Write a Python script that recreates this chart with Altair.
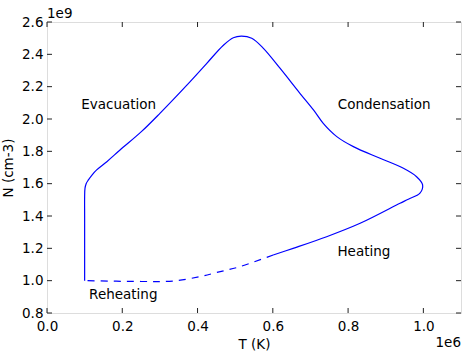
import altair as alt
import pandas as pd

# Values in units of 1e6 K (T) and 1e9 cm-3 (N)
solid_T = [0.1, 0.1, 0.1, 0.1, 0.101, 0.104, 0.110, 0.12, 0.132, 0.159, 0.194, 0.25, 0.300,
           0.371, 0.424, 0.468, 0.495, 0.517, 0.544, 0.575, 0.619, 0.672, 0.708, 0.734,
           0.770, 0.814, 0.885, 0.947, 0.982, 0.998, 0.991, 0.960, 0.938, 0.832,
           0.743, 0.654, 0.601]
solid_N = [1.0, 1.2, 1.4, 1.52, 1.572, 1.60, 1.623, 1.655, 1.685, 1.736, 1.808, 1.92, 2.035,
           2.208, 2.343, 2.455, 2.503, 2.513, 2.499, 2.437, 2.314, 2.159, 2.056, 1.973,
           1.891, 1.829, 1.757, 1.695, 1.643, 1.592, 1.541, 1.504, 1.479, 1.355,
           1.272, 1.200, 1.159]
dashed_T = [0.601, 0.513, 0.45, 0.406, 0.336, 0.25, 0.1]
dashed_N = [1.159, 1.087, 1.05, 1.025, 0.998, 0.995, 1.0]

x_ticks = [0.0, 0.2, 0.4, 0.6, 0.8, 1.0]
y_ticks = [0.8, 1.0, 1.2, 1.4, 1.6, 1.8, 2.0, 2.2, 2.4, 2.6]

ann_text = ["Evacuation", "Condensation", "Heating", "Reheating"]
ann_T = [0.1905, 0.896, 0.842, 0.2027]
ann_N = [2.060, 2.060, 1.151, 0.887]

W, H = 414, 291
FONT = "DejaVu Sans"
FS = 13.5
BLUE = "#0000ff"

solid = pd.DataFrame({"T": solid_T, "N": solid_N, "o": range(len(solid_T))})
dashed = pd.DataFrame({"T": dashed_T, "N": dashed_N, "o": range(len(dashed_T))})
ann = pd.DataFrame({"T": ann_T, "N": ann_N, "label": ann_text})
xt = pd.DataFrame({"v": x_ticks})
yt = pd.DataFrame({"v": y_ticks})

xs = alt.Scale(domain=[0, 1.1], nice=False, zero=False)
ys = alt.Scale(domain=[0.8, 2.6], nice=False, zero=False)

xaxis = alt.Axis(values=x_ticks, format=".1f", ticks=False, domain=False, grid=False,
                 labelFont=FONT, labelFontSize=FS, labelColor="black", labelPadding=6,
                 labelOverlap=False, labelFlush=False,
                 title="T (K)", titleFont=FONT, titleFontSize=FS, titleFontWeight="normal",
                 titleColor="black", titlePadding=5)
yaxis = alt.Axis(values=y_ticks, format=".1f", ticks=False, domain=False, grid=False,
                 labelFont=FONT, labelFontSize=FS, labelColor="black", labelPadding=4,
                 labelOverlap=False, labelFlush=False,
                 title="N (cm-3)", titleFont=FONT, titleFontSize=FS, titleFontWeight="normal",
                 titleColor="black", titlePadding=6)


def X(f):
    return alt.X(f, scale=xs, axis=xaxis)


def Y(f):
    return alt.Y(f, scale=ys, axis=yaxis)


line_solid = alt.Chart(solid).mark_line(color=BLUE, strokeWidth=1.2, interpolate="catmull-rom").encode(
    x=X("T:Q"), y=Y("N:Q"), order="o:Q",
)
line_dashed = alt.Chart(dashed).mark_line(color=BLUE, strokeWidth=1.2, strokeDash=[7, 6],
                                          interpolate="catmull-rom").encode(
    x=X("T:Q"), y=Y("N:Q"), order="o:Q",
)
labels = alt.Chart(ann).mark_text(font=FONT, fontSize=FS, color="black", align="center",
                                  baseline="alphabetic").encode(
    x=X("T:Q"), y=Y("N:Q"), text="label:N")

tick_len = 5
TC = "#222222"
xb = alt.Chart(xt).mark_rule(color=TC, strokeWidth=1).encode(
    x=X("v:Q"), y=alt.value(H), y2=alt.value(H - tick_len))
xtop = alt.Chart(xt).mark_rule(color=TC, strokeWidth=1).encode(
    x=X("v:Q"), y=alt.value(0), y2=alt.value(tick_len))
yl = alt.Chart(yt).mark_rule(color=TC, strokeWidth=1).encode(
    y=Y("v:Q"), x=alt.value(0), x2=alt.value(tick_len))
yr = alt.Chart(yt).mark_rule(color=TC, strokeWidth=1).encode(
    y=Y("v:Q"), x=alt.value(W), x2=alt.value(W - tick_len))

e9 = alt.Chart(pd.DataFrame({"t": ["1e9"]})).mark_text(
    font=FONT, fontSize=FS, color="black", align="left", baseline="alphabetic").encode(
    x=alt.value(0), y=alt.value(-4), text="t:N")
e6 = alt.Chart(pd.DataFrame({"t": ["1e6"]})).mark_text(
    font=FONT, fontSize=FS, color="black", align="right", baseline="alphabetic").encode(
    x=alt.value(W), y=alt.value(H + 34), text="t:N")

chart = alt.layer(line_solid, line_dashed, labels, xb, xtop, yl, yr, e9, e6).properties(
    width=W, height=H,
    autosize=alt.AutoSizeParams(type="none"),
    padding={"left": 47, "top": 22, "right": 9, "bottom": 41},
).configure_view(stroke="black", strokeWidth=1).configure_axis(
    labelOverlap=False, labelFlush=False
).configure(background="white")

chart.save("out.html", embed_options={"renderer": "svg", "actions": False})
